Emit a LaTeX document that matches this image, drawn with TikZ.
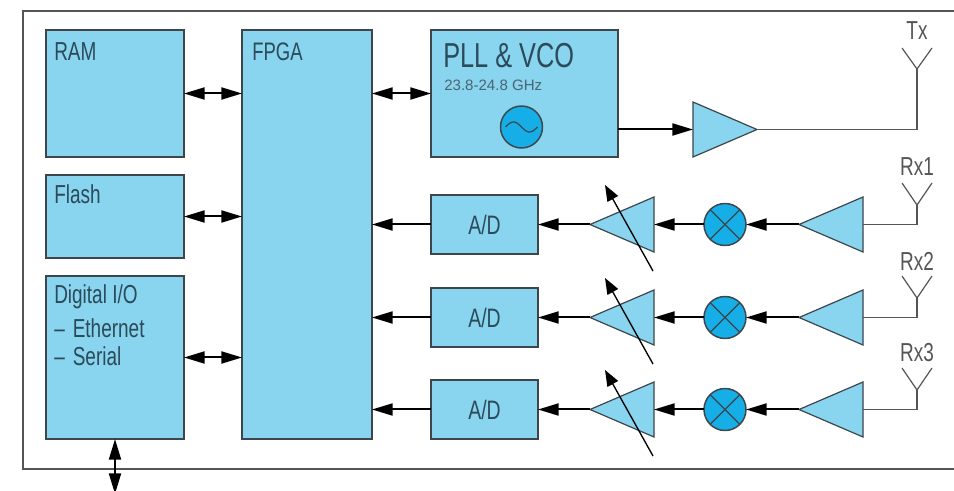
\documentclass[tikz,border=0pt]{standalone}
\usepackage{fontspec}
\setmainfont[FakeStretch=0.73]{Liberation Sans}
\newfontfamily\widefont{Liberation Sans}
\usetikzlibrary{arrows.meta,shapes.geometric}

\definecolor{boxblue}{HTML}{89D4EE}
\definecolor{ringblue}{HTML}{16AEE6}
\definecolor{edgegray}{HTML}{3C464C}
\definecolor{framegray}{HTML}{555555}
\definecolor{inktext}{HTML}{2B4A5A}

\tikzset{
    block/.style={draw=edgegray,fill=boxblue,line width=0.9pt,inner sep=0,outer sep=0},
    amp/.style={isosceles triangle,isosceles triangle stretches,draw=edgegray,fill=boxblue,
        line width=0.9pt,inner sep=0,outer sep=0,minimum width=41.25pt,minimum height=48pt,anchor=lower side},
    ring/.style={circle,draw=edgegray,fill=ringblue,line width=1.1pt,inner sep=0,outer sep=0,minimum size=31.5pt},
    sig/.style={line width=1.5pt,-{Triangle[length=15.5pt,width=9pt]}},
    bus/.style={line width=1.5pt,{Triangle[length=15.5pt,width=9pt]}-{Triangle[length=15.5pt,width=9pt]}},
    gain/.style={line width=1pt,-{Triangle[length=12pt,width=9pt]}},
    feed/.style={framegray,line width=0.9pt},
    caption/.style={anchor=base west,inner sep=0,text=inktext,font=\fontsize{19.5}{22}\selectfont},
    tag/.style={inner sep=0,text=framegray,font=\fontsize{19.5}{22}\selectfont}
}

\begin{document}
\begin{tikzpicture}[x=0.75pt,y=-0.75pt]

\useasboundingbox (0,0) rectangle (954,491);

\draw[framegray,line width=1pt] (954,11)--(23,11)--(23,469)--(954,469);

% left column and FPGA
\node[block,minimum width=103.5pt,minimum height=95.25pt] (ram) at (115,93.5) {};
\node[block,minimum width=103.5pt,minimum height=62.25pt] (flash) at (115,216.5) {};
\node[block,minimum width=103.5pt,minimum height=122.25pt] (dio) at (115,357.5) {};
\node[block,minimum width=97.5pt,minimum height=306.75pt] (fpga) at (307,234.5) {};
\node[block,minimum width=140.25pt,minimum height=95.25pt] (pll) at (524.5,93.5) {};

\path (54,60.5) node[caption] (ramtext) {RAM};
\path (54,203.5) node[caption] (flashtext) {Flash};
\path (54,303.5) node[caption] (diotext) {Digital I/O};
\path (54,337.5) node[caption] (ethertext) {--\hspace{6pt}Ethernet};
\path (54,365.5) node[caption] (serialtext) {--\hspace{6pt}Serial};
\path (252,60.5) node[caption,font=\fontsize{19}{22}\selectfont] (fpgatext) {FPGA};
\path (443,68) node[caption,font=\fontsize{26}{28}\selectfont] (plltext) {PLL \& VCO};
\path (444,91) node[caption,text=inktext!85!white,font=\widefont\fontsize{11.3}{13}\selectfont] (bandtext) {23.8-24.8 GHz};

\draw[bus] (ram.east)--(ram.east -| fpga.west);
\draw[bus] (flash.east)--(flash.east -| fpga.west);
\draw[bus] (dio.east)--(dio.east -| fpga.west);
\draw[bus] (pll.west)--(pll.west -| fpga.east);

\coordinate (dioend) at (115,494);
\draw[bus] (dio.south)--(dioend);

% oscillator
\node[ring] (osc) at (521.5,127) {};
\draw[edgegray,line width=0.9pt,shift={(osc)}] plot[domain=-16:16,smooth,samples=30] (\x,{5*sin(\x*180/16)});

% transmit path
\node[amp] (txamp) at (693,129.5) {};
\draw[sig] (txamp.lower side -| pll.east)--(txamp.lower side);

\coordinate (txfoot) at (917,129.5);
\coordinate (txstem) at (917,69);
\coordinate (txleft) at (902,48);
\coordinate (txright) at (932,48);
\draw[feed] (txamp.apex)--(txfoot)--(txstem);
\draw[feed] (txleft)--(txstem)--(txright);
\path (917,31) node[tag] (txtext) {Tx};

% receive paths
\foreach \n/\y/\t in {1/224/167,2/317/261,3/409/353}
{
    \node[block,minimum width=80.25pt,minimum height=44.25pt] (ad\n) at (484.5,\y+0.5) {};
    \node[inktext,inner sep=0,font=\fontsize{20}{22}\selectfont] (adtext\n) at (ad\n) {A/D};
    \node[amp,shape border rotate=180] (vga\n) at (654,\y+0.5) {};
    \node[ring] (mix\n) at (725,\y+0.5) {};
    \node[amp,shape border rotate=180] (lna\n) at (863,\y+0.5) {};

    \draw[edgegray,line width=0.9pt] (mix\n.45)--(mix\n.225);
    \draw[edgegray,line width=0.9pt] (mix\n.135)--(mix\n.315);

    \draw[sig] (ad\n.west)--(ad\n.west -| fpga.east);
    \draw[sig] (vga\n.apex)--(ad\n.east);
    \draw[sig] (mix\n.west)--(vga\n.lower side);
    \draw[sig] (lna\n.apex)--(mix\n.east);

    \coordinate (gainfrom\n) at (653,\y+47);
    \coordinate (gainto\n) at (605,\y-39);
    \draw[gain] (gainfrom\n)--(gainto\n);

    \coordinate (rxfoot\n) at (917,\y+0.5);
    \coordinate (rxstem\n) at (917,\y-19);
    \coordinate (rxleft\n) at (902,\y-41);
    \coordinate (rxright\n) at (932,\y-41);
    \draw[feed] (lna\n.lower side)--(rxfoot\n)--(rxstem\n);
    \draw[feed] (rxleft\n)--(rxstem\n)--(rxright\n);
    \path (917,\t) node[tag] (rxtext\n) {Rx\n};
}

\end{tikzpicture}
\end{document}
